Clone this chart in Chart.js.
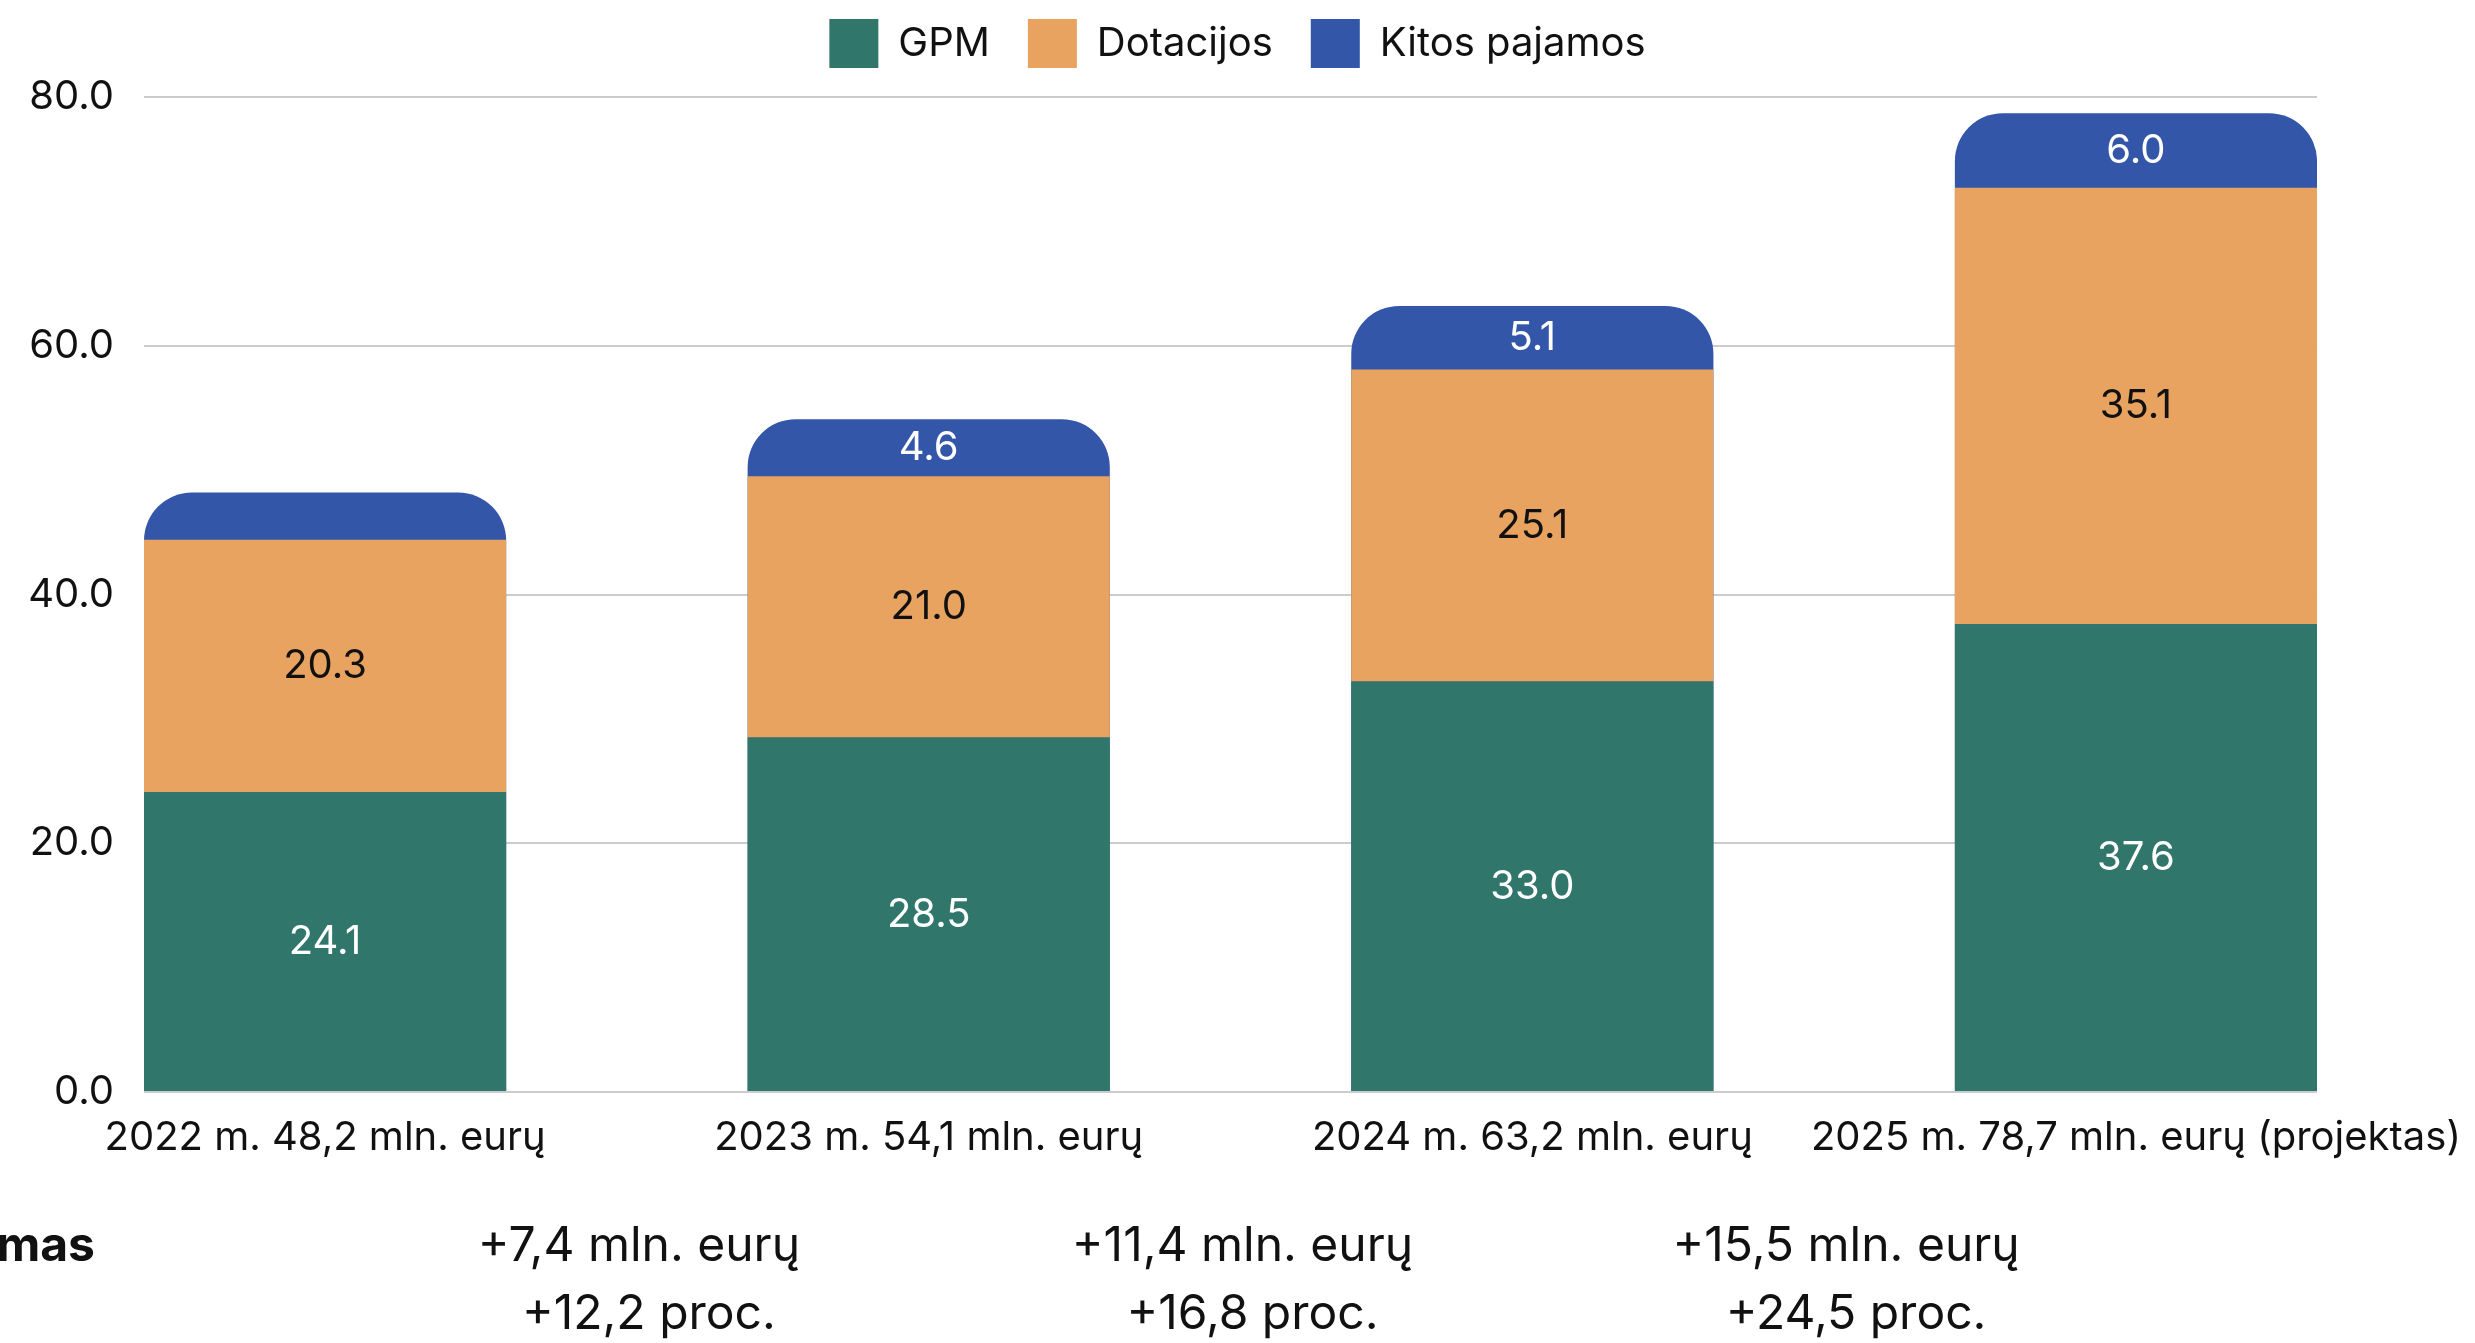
<!DOCTYPE html>
<html>
<head>
<meta charset="utf-8">
<script src="https://cdn.jsdelivr.net/npm/chart.js@4.4.1/dist/chart.umd.min.js"></script>
<style>
  html, body { margin: 0; padding: 0; background: #fff; }
  #wrap { width: 2475px; height: 1343px; }
</style>
</head>
<body>
<div id="wrap"><canvas id="revenue"></canvas></div>
<script>
// chart data
const years = ['2022 m. 48,2 mln. eurų', '2023 m. 54,1 mln. eurų', '2024 m. 63,2 mln. eurų', '2025 m. 78,7 mln. eurų (projektas)'];
const gpm = [24.1, 28.5, 33.0, 37.6];
const dotacijos = [20.3, 21.0, 25.1, 35.1];
const kitos = [3.8, 4.6, 5.1, 6.0];
const yTicks = [0, 20, 40, 60, 80];
const changeTitle = 'Augimas';
const changeEur = ['+7,4 mln. eurų', '+11,4 mln. eurų', '+15,5 mln. eurų'];
const changePct = ['+12,2 proc.', '+16,8 proc.', '+24,5 proc.'];

const FONT = 'Inter, "Noto Sans", sans-serif';
const GREEN = '#31766a';
const ORANGE = '#e9a361';
const BLUE = '#3356a8';

// totals so the blue layer can sit behind the stack and keep its big rounded top
const totals = years.map((_, i) => gpm[i] + dotacijos[i] + kitos[i]);
const points = arr => arr.map((v, i) => ({ x: i, y: v }));

// a bit more room under the legend
const legendGap = {
    id: 'legendGap',
    beforeLayout(chart) {
        const lg = chart.legend;
        if (lg && !lg._gapPatched) {
            const fit = lg.fit;
            lg.fit = function () { fit.call(this); this.height += 19; };
            lg._gapPatched = true;
        }
    }
};

// segment labels + change row under the chart
const labelPlugin = {
    id: 'segmentLabels',
    afterDatasetsDraw(chart) {
        const { ctx, scales: { x, y } } = chart;
        ctx.save();
        ctx.font = `40px ${FONT}`;
        ctx.textAlign = 'center';
        ctx.textBaseline = 'middle';
        const segs = [[gpm, '#ffffff'], [dotacijos, '#111111'], [kitos, '#ffffff']];
        years.forEach((_, i) => {
            let base = 0;
            segs.forEach(([arr, color]) => {
                const v = arr[i];
                const top = base + v;
                if (v >= 4) {
                    ctx.fillStyle = color;
                    ctx.fillText(v.toFixed(1), x.getPixelForValue(i), (y.getPixelForValue(base) + y.getPixelForValue(top)) / 2);
                }
                base = top;
            });
        });
        ctx.restore();
    },
    afterDraw(chart) {
        const { ctx, scales: { x } } = chart;
        ctx.save();
        ctx.fillStyle = '#111';
        ctx.textBaseline = 'middle';
        ctx.font = `bold 48px ${FONT}`;
        ctx.textAlign = 'right';
        ctx.fillText(changeTitle, 95, 1247);
        ctx.font = `48px ${FONT}`;
        ctx.textAlign = 'center';
        changeEur.forEach((t, i) => {
            const mid = (x.getPixelForValue(i) + x.getPixelForValue(i + 1)) / 2;
            ctx.fillText(t, mid + 12, 1247);
            ctx.fillText(changePct[i], mid + 22, 1315);
        });
        ctx.restore();
    }
};

const ctx = document.getElementById('revenue').getContext('2d');
new Chart(ctx, {
    type: 'bar',
    data: {
        datasets: [
            { label: 'GPM', data: points(gpm), backgroundColor: GREEN, stack: 'parts', order: 0 },
            { label: 'Dotacijos', data: points(dotacijos), backgroundColor: ORANGE, stack: 'parts', order: 0 },
            {
                label: 'Kitos pajamos', data: points(totals), backgroundColor: BLUE,
                stack: 'total', order: 1, grouped: false,
                borderRadius: { topLeft: 48, topRight: 48, bottomLeft: 0, bottomRight: 0 }
            }
        ]
    },
    options: {
        responsive: true,
        maintainAspectRatio: false,
        animation: false,
        categoryPercentage: 1,
        barPercentage: 0.6,
        layout: { padding: { left: 0, right: 0, top: -19, bottom: 167 } },
        plugins: {
            tooltip: { enabled: false },
            legend: {
                position: 'top',
                labels: {
                    boxWidth: 49, boxHeight: 49, padding: 38,
                    color: '#111', font: { family: FONT, size: 40 }
                }
            }
        },
        scales: {
            x: {
                type: 'linear', min: -0.3, max: 3.3, offset: false,
                grid: { display: false },
                border: { display: false },
                ticks: {
                    stepSize: 1, includeBounds: false, autoSkip: false,
                    maxRotation: 0, minRotation: 0, padding: 14,
                    color: '#111', font: { family: FONT, size: 40 },
                    callback: v => years[v]
                }
            },
            y: {
                stacked: true, min: 0, max: 80,
                grid: { color: '#cccccc', lineWidth: 2, drawTicks: false },
                border: { display: false },
                afterFit: s => { s.width = 144; },
                afterBuildTicks: s => { s.ticks = yTicks.map(v => ({ value: v })); },
                ticks: {
                    padding: 30, color: '#111', font: { family: FONT, size: 40 },
                    callback: v => v.toFixed(1)
                }
            }
        }
    },
    plugins: [legendGap, labelPlugin]
});
</script>
</body>
</html>
